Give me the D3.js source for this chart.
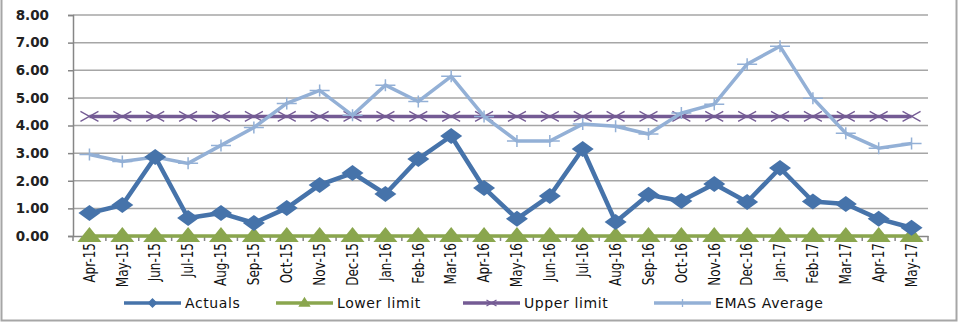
<!DOCTYPE html>
<html>
<head>
<meta charset="utf-8">
<script src="https://cdn.jsdelivr.net/npm/d3@7"></script>
<style>
  body { margin: 0; background: #fff; }
  svg text { font-family: "DejaVu Sans", Verdana, sans-serif; }
</style>
</head>
<body>
<script>
const months = ['Apr-15','May-15','Jun-15','Jul-15','Aug-15','Sep-15','Oct-15','Nov-15','Dec-15',
  'Jan-16','Feb-16','Mar-16','Apr-16','May-16','Jun-16','Jul-16','Aug-16','Sep-16','Oct-16','Nov-16','Dec-16',
  'Jan-17','Feb-17','Mar-17','Apr-17','May-17'];
const actuals = [0.83,1.12,2.86,0.65,0.83,0.47,1.01,1.85,2.28,1.52,2.79,3.62,1.74,0.62,1.45,3.15,0.51,1.49,1.27,1.88,1.23,2.46,1.25,1.16,0.62,0.30];
const lowerLimit = months.map(() => 0);
const upperLimit = months.map(() => 4.33);
const emas = [2.95,2.70,2.86,2.63,3.28,3.93,4.80,5.27,4.37,5.46,4.87,5.78,4.33,3.44,3.44,4.05,3.97,3.69,4.45,4.77,6.22,6.87,4.99,3.72,3.18,3.35];
const yTicks = [0,1,2,3,4,5,6,7,8];

const W = 959, H = 325;
const m = {left: 73, right: 31, top: 15, bottom: 89};

const svg = d3.select('body').append('svg')
  .attr('width', W).attr('height', H);

// outer border
svg.append('rect')
  .attr('x', 1.5).attr('y', -2).attr('width', 955).attr('height', 322.5)
  .attr('fill', 'none').attr('stroke', '#a6a6a6').attr('stroke-width', 2);

const x = d3.scaleBand().domain(months).range([m.left, W - m.right]);
const y = d3.scaleLinear().domain([0, 8]).range([H - m.bottom, m.top]);
const cx = d => x(d) + x.bandwidth() / 2;

// grid
svg.append('g').selectAll('line').data(yTicks.slice(1)).enter().append('line')
  .attr('x1', m.left).attr('x2', W - m.right)
  .attr('y1', d => y(d)).attr('y2', d => y(d))
  .attr('stroke', '#a6a6a6').attr('stroke-width', 1.5);

// y axis
const yAxis = svg.append('g').attr('transform', `translate(${m.left},0)`)
  .call(d3.axisLeft(y).tickValues(yTicks).tickFormat(d3.format('.2f')).tickSize(5).tickPadding(19));
yAxis.select('.domain').attr('stroke', '#868686').attr('stroke-width', 1.5);
yAxis.selectAll('.tick line').attr('stroke', '#868686').attr('stroke-width', 1.5);
yAxis.selectAll('text').attr('font-size', 13.5).attr('font-weight', 'bold').attr('fill', '#222');

// x axis
const xAxis = svg.append('g').attr('transform', `translate(0,${y(0)})`)
  .call(d3.axisBottom(x).tickSize(0).tickPadding(0));
xAxis.select('.domain').attr('stroke', '#868686').attr('stroke-width', 1.5);
xAxis.selectAll('.tick line').remove();
xAxis.selectAll('.tick text')
  .attr('font-family', '"Liberation Sans", Arial, sans-serif')
  .attr('font-size', 15).attr('fill', '#111')
  .attr('text-anchor', 'end')
  .attr('dy', '0.35em')
  .attr('transform', 'translate(0,7) rotate(-90) scale(0.8,1)')
  .attr('x', 0).attr('y', 0);
// band boundary ticks
svg.append('g').selectAll('line').data(months.concat(['end'])).enter().append('line')
  .attr('x1', (d, i) => m.left + i * x.step()).attr('x2', (d, i) => m.left + i * x.step())
  .attr('y1', y(0)).attr('y2', y(0) + 5)
  .attr('stroke', '#868686').attr('stroke-width', 1.5);

const line = d3.line().x((d, i) => cx(months[i])).y(d => y(d));

const cBlue = '#4673aa', cGreen = '#8aa64e', cPurple = '#745b94', cLight = '#93b0d6';

// upper limit
svg.append('path').datum(upperLimit).attr('d', line)
  .attr('fill', 'none').attr('stroke', cPurple).attr('stroke-width', 3.5);
svg.append('g').selectAll('path').data(upperLimit).enter().append('path')
  .attr('d', 'M-9,-5L9,5M-9,5L9,-5')
  .attr('transform', (d, i) => `translate(${cx(months[i])},${y(d)})`)
  .attr('stroke', cPurple).attr('stroke-width', 1.3).attr('fill', 'none');

// EMAS
svg.append('path').datum(emas).attr('d', line)
  .attr('fill', 'none').attr('stroke', cLight).attr('stroke-width', 3.5);
svg.append('g').selectAll('path').data(emas).enter().append('path')
  .attr('d', 'M-10,0L10,0M0,-6L0,6')
  .attr('transform', (d, i) => `translate(${cx(months[i])},${y(d)})`)
  .attr('stroke', cLight).attr('stroke-width', 1.5).attr('fill', 'none');

// lower limit
svg.append('path').datum(lowerLimit).attr('d', line)
  .attr('fill', 'none').attr('stroke', cGreen).attr('stroke-width', 3.5);
svg.append('g').selectAll('path').data(lowerLimit).enter().append('path')
  .attr('d', 'M0,-9L12,6L-12,6Z')
  .attr('transform', (d, i) => `translate(${cx(months[i])},${y(d)})`)
  .attr('fill', cGreen);

// actuals
svg.append('path').datum(actuals).attr('d', line)
  .attr('fill', 'none').attr('stroke', cBlue).attr('stroke-width', 4.5).attr('stroke-linejoin', 'round');
svg.append('g').selectAll('path').data(actuals).enter().append('path')
  .attr('d', 'M0,-8L11,0L0,8L-11,0Z')
  .attr('transform', (d, i) => `translate(${cx(months[i])},${y(d)})`)
  .attr('fill', cBlue);

// legend
const legend = [
  {name: 'Actuals', color: cBlue, x: 124, mark: 'M0,-4L4,0L0,4L-4,0Z', fill: true},
  {name: 'Lower limit', color: cGreen, x: 276, mark: 'M0,-5L5,3L-5,3Z', fill: true},
  {name: 'Upper limit', color: cPurple, x: 463, mark: 'M-5,-3L5,3M-5,3L5,-3', fill: false},
  {name: 'EMAS Average', color: cLight, x: 654, mark: 'M-5,0L5,0M0,-4L0,4', fill: false}
];
const lg = svg.append('g').attr('transform', 'translate(0,303)');
const li = lg.selectAll('g').data(legend).enter().append('g')
  .attr('transform', d => `translate(${d.x},0)`);
li.append('line').attr('x1', 0).attr('x2', 57).attr('stroke', d => d.color).attr('stroke-width', 3.5);
li.append('path').attr('d', d => d.mark).attr('transform', 'translate(28.5,0)')
  .attr('fill', d => d.fill ? d.color : 'none').attr('stroke', d => d.color).attr('stroke-width', 1.3);
li.append('text').attr('x', 61).attr('dy', '0.35em')
  .attr('font-size', 14).attr('letter-spacing', 0.6).attr('fill', '#111').text(d => d.name);
</script>
</body>
</html>
